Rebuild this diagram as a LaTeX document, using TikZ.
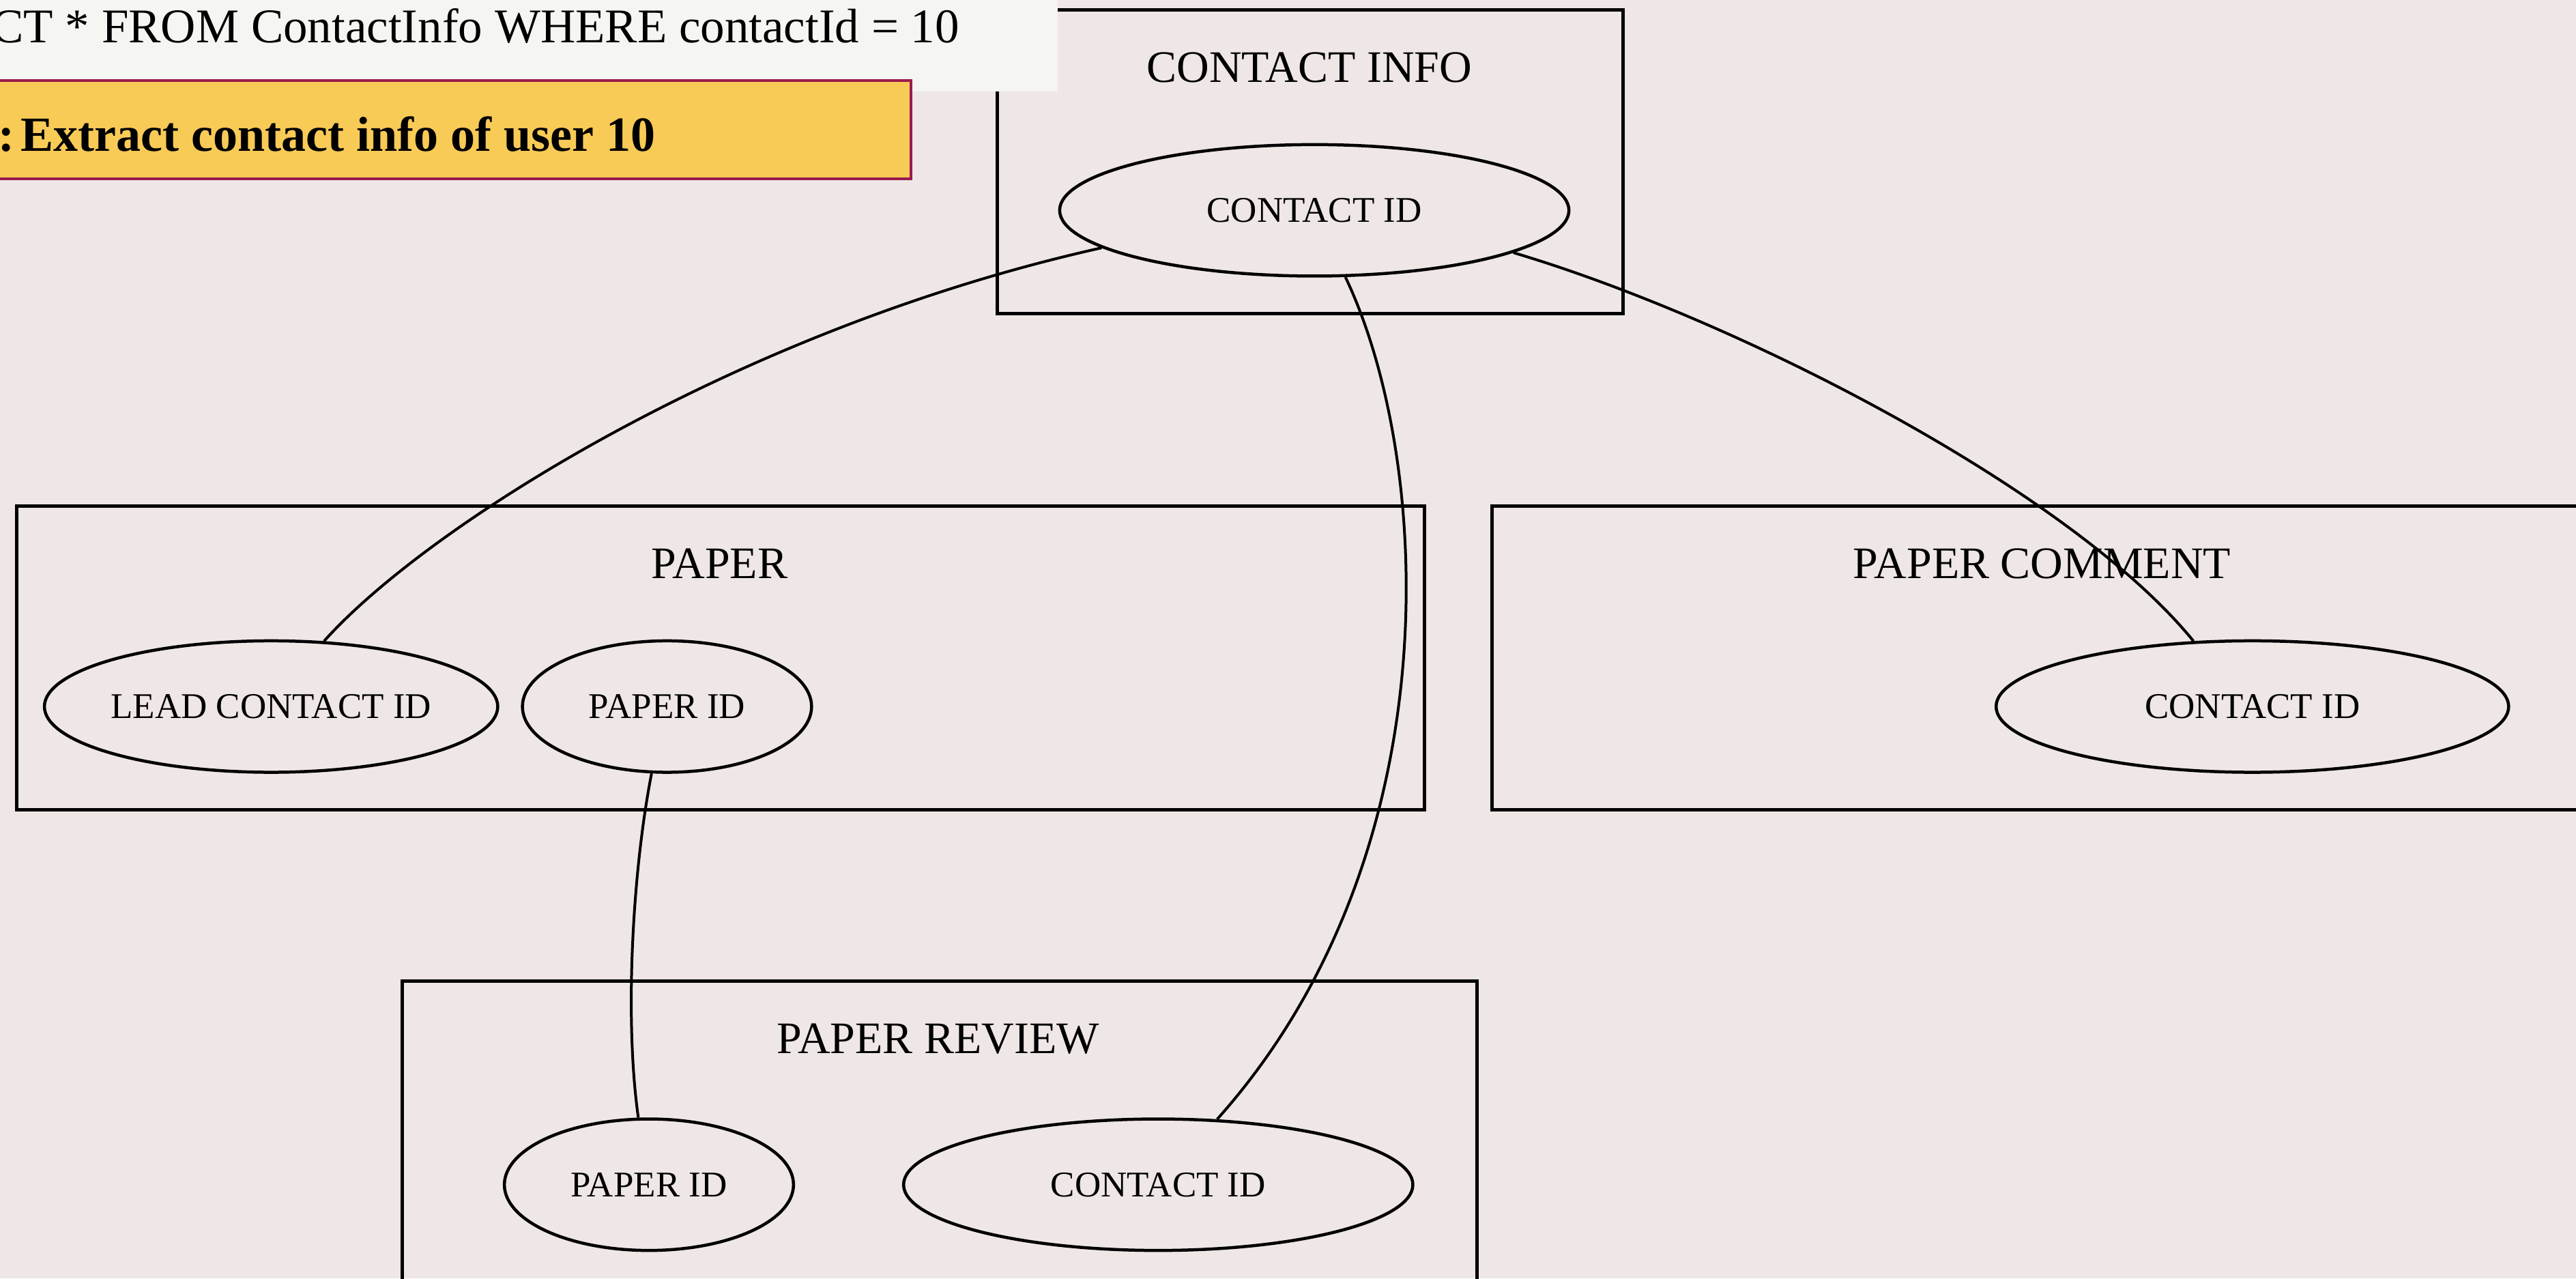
\documentclass[tikz,border=0pt]{standalone}
\usepackage{fontspec}
\setmainfont{Liberation Serif}
\usetikzlibrary{shapes.geometric}

\definecolor{canvas}{HTML}{EEE7E5}
\definecolor{querybg}{HTML}{F5F5F1}
\definecolor{stepfill}{HTML}{F8CA56}
\definecolor{stepline}{HTML}{9A1B4E}

\tikzset{
  tablebox/.style={draw=black, line width=5pt, rectangle, inner sep=0pt},
  field/.style={ellipse, draw=black, line width=4.5pt, inner sep=0pt,
    minimum height=192.6pt, font=\fontsize{53}{60}\selectfont},
  tabletitle/.style={anchor=base, inner sep=0pt, font=\fontsize{66}{76}\selectfont},
  link/.style={draw=black, line width=4pt},
}

\begin{document}
\begin{tikzpicture}[x=2.4075pt, y=-2.4075pt]
\useasboundingbox (0,0) rectangle (1568,778);
\clip (0,0) rectangle (1568,778);
\fill[canvas] (0,0) rectangle (1568,778);

% table containers
\node[tablebox, minimum width=917.3pt, minimum height=445.4pt] (contactinfo) at (797.5,98.5) {};
\node[tablebox, minimum width=2063.2pt, minimum height=445.4pt] (paper) at (438.5,400.5) {};
\node[tablebox, minimum width=1714.1pt, minimum height=445.4pt] (papercomment) at (1264,400.5) {};
\node[tablebox, minimum width=1574.5pt, minimum height=561pt] (paperreview) at (572,713.5) {};

% table titles
\node[tabletitle] (tcontactinfo) at (797,50) {CONTACT INFO};
\node[tabletitle] (tpaper) at (438,352) {PAPER};
\node[tabletitle] (tpapercomment) at (1243,352) {PAPER COMMENT};
\node[tabletitle] (tpaperreview) at (571,641) {PAPER REVIEW};

% key fields
\node[field, minimum width=746.3pt] (ci) at (800,128) {CONTACT ID};
\node[field, minimum width=650pt] (lead) at (165,430) {LEAD CONTACT ID};
\node[field, minimum width=423.7pt] (pid) at (406,430) {PAPER ID};
\node[field, minimum width=751.1pt] (cci) at (1371,430) {CONTACT ID};
\node[field, minimum width=423.7pt] (rpid) at (395,721) {PAPER ID};
\node[field, minimum width=746.3pt] (rci) at (705,721) {CONTACT ID};

% relations between key fields
\draw[link] (ci.190) .. controls (450,200) and (260,320) .. (lead.51);
\draw[link] (ci.348) .. controls (1060,195) and (1262,300) .. (cci.132);
\draw[link] (ci.295) .. controls (872,280) and (885,520) .. (rci.48);
\draw[link] (pid.257) .. controls (385,530) and (380,620) .. (rpid.99);

% query banner
\node[fill=querybg, inner sep=0pt, minimum width=1598.6pt, minimum height=182.2pt] (query) at (312,17.85) {};
\node[anchor=base east, inner sep=0pt, font=\fontsize{71}{80}\selectfont] (querytext) at (584,26)
  {CT * FROM ContactInfo WHERE contactId = 10};

% step banner
\node[fill=stepfill, draw=stepline, line width=4pt, inner sep=0pt,
  minimum width=1383.4pt, minimum height=144.5pt] (stepbox) at (267.3,79) {};
\node[anchor=base east, inner sep=0pt, font=\fontsize{72}{80}\selectfont\bfseries] (steptext) at (399,92.2)
  {:\hspace{0.12em}Extract contact info of user 10};
\end{tikzpicture}
\end{document}
